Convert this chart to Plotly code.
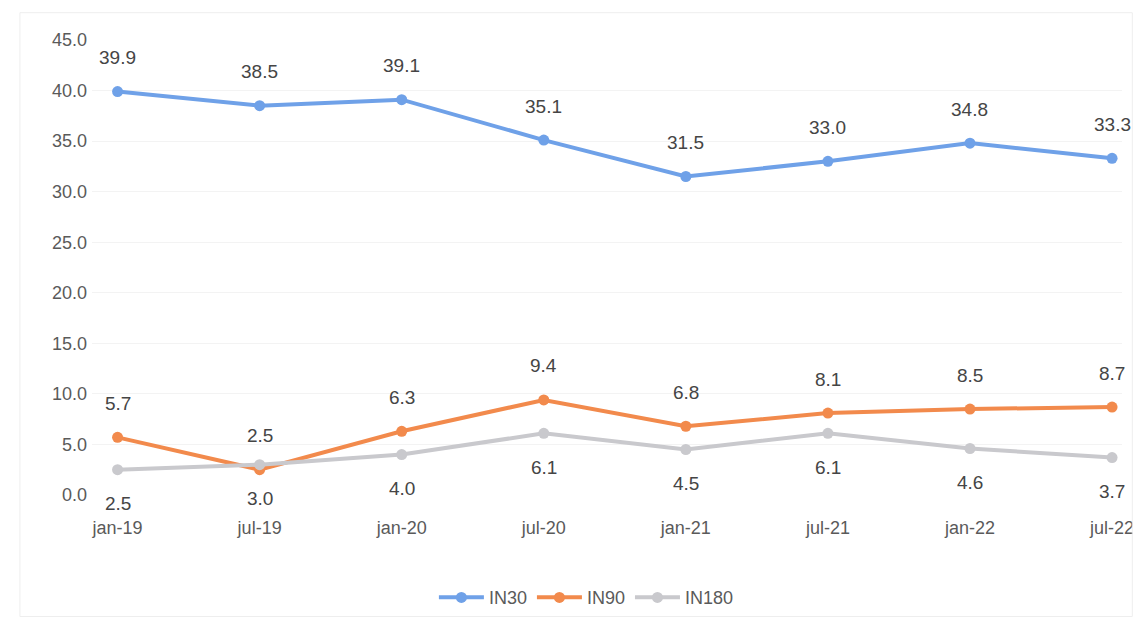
import plotly.graph_objects as go

categories = ["jan-19", "jul-19", "jan-20", "jul-20", "jan-21", "jul-21", "jan-22", "jul-22"]
in30 = [39.9, 38.5, 39.1, 35.1, 31.5, 33.0, 34.8, 33.3]
in90 = [5.7, 2.5, 6.3, 9.4, 6.8, 8.1, 8.5, 8.7]
in180 = [2.5, 3.0, 4.0, 6.1, 4.5, 6.1, 4.6, 3.7]
y_ticks = [0, 5, 10, 15, 20, 25, 30, 35, 40, 45]

series = [
    ("IN30", in30, "#6fa1e8", 1),
    ("IN90", in90, "#f28a4c", 1),
    ("IN180", in180, "#c9c9cd", -1),
]

fig = go.Figure()
annotations = []
for name, vals, color, side in series:
    fig.add_trace(go.Scatter(
        x=categories, y=vals, name=name, mode="lines+markers",
        line=dict(color=color, width=4),
        marker=dict(color=color, size=11),
        cliponaxis=False,
    ))
    for c, v in zip(categories, vals):
        annotations.append(dict(
            x=c, y=v, text=f"{v:.1f}", showarrow=False,
            yshift=34 * side, font=dict(size=19, color="#454545"),
        ))

fig.update_layout(
    width=1133, height=624,
    margin=dict(l=84, r=19, t=32, b=137),
    paper_bgcolor="white", plot_bgcolor="white",
    font=dict(family="Liberation Sans, Arial, sans-serif", color="#5a5a5a"),
    annotations=annotations,
    showlegend=True,
    legend=dict(orientation="h", x=0.48, xanchor="center", y=-0.185, yanchor="top",
                font=dict(size=18, color="#5a5a5a"), itemwidth=45),
    xaxis=dict(type="category", range=[-0.18, 7.07], showgrid=False, showline=False,
               zeroline=False, tickfont=dict(size=18, color="#5a5a5a"),
               ticklabelstandoff=20, automargin=False),
    yaxis=dict(range=[0, 45], tickvals=y_ticks, tickformat=".1f", showgrid=True,
               gridcolor="#f3f3f3", zeroline=False, showline=False,
               tickfont=dict(size=18, color="#5a5a5a"), ticklabelstandoff=4,
               automargin=False),
)
fig.add_shape(type="rect", xref="paper", yref="paper", x0=-0.07, x1=1.01, y0=-0.267, y1=1.06,
              line=dict(color="#eeeeee", width=1))

fig.write_html("out.html")
